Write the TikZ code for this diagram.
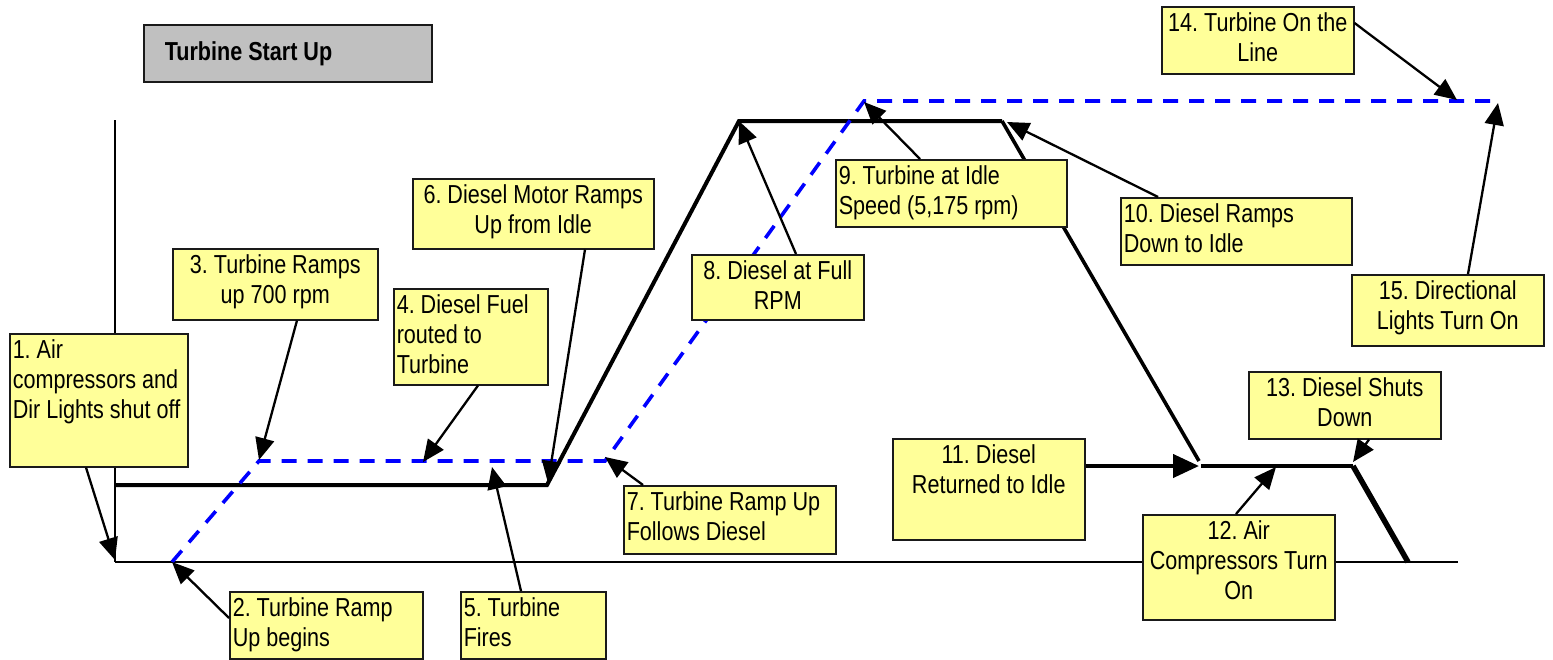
\documentclass[tikz,border=0pt]{standalone}
\usepackage{fontspec}
\setmainfont[FakeStretch=0.83]{Liberation Sans}
\usetikzlibrary{arrows.meta,calc}
\definecolor{boxyellow}{HTML}{FFFF99}
\definecolor{titlegray}{HTML}{C0C0C0}
\definecolor{turbblue}{HTML}{0000FF}
\definecolor{edgegray}{HTML}{1A1A1A}
\newcommand{\bxt}[4]{\parbox[c][#2][t]{#1}{#3\strut #4\par}}
\frenchspacing
\begin{document}
\begin{tikzpicture}[x=1pt,y=-1pt,
  every node/.style={font=\fontsize{26}{30}\selectfont},
  ybox/.style={draw=edgegray, line width=1.5pt, fill=boxyellow, inner xsep=3pt, inner ysep=4pt, anchor=north west},
  tbox/.style={draw=edgegray, line width=1.6pt, fill=titlegray, inner sep=0pt, anchor=north west},
  arr/.style={-{Triangle[length=22pt,width=19pt]}, line width=2.3pt},
  bigarr/.style={-{Triangle[length=26pt,width=23pt]}, line width=4.2pt},
  diesel/.style={line width=4pt, line join=miter},
  turbine/.style={line width=3.6pt, turbblue, dash pattern=on 15pt off 11pt},
  axis/.style={line width=2.5pt}
]
\useasboundingbox (0,0) rectangle (1553,659);

% title
\node[tbox] (title) at (143,24) {\parbox[c][57pt][c]{288pt}{\hspace*{21pt}\textbf{Turbine Start Up}}};

% axes
\draw[axis] (115,120) -- (115,562);
\draw[axis] (115,562) -- (1458,562);

% diesel curve
\draw[diesel] (115,485) -- (547,485) -- (739,121) -- (1002,121);
\draw[line width=3.6pt] (1002,121) -- (1199,461);
\draw[line width=4pt] (1201,466) -- (1353,466);
\draw[line width=5.5pt] (1353,466) -- (1408,562);

% turbine curve
\draw[turbine] (172,562) -- (259,461) -- (605,461) -- (864,101) -- (1497,101);

% boxes
\node[ybox] (b1) at (9,333) {\bxt{172pt}{125pt}{\raggedright}{1. Air\\compressors and\\Dir Lights shut off}};
\node[ybox] (b2) at (229,591) {\bxt{187pt}{59pt}{\raggedright}{2. Turbine Ramp\\Up begins}};
\node[ybox] (b3) at (172,248) {\bxt{199pt}{63pt}{\centering}{3. Turbine Ramps\\up 700 rpm}};
\node[ybox] (b4) at (393,288) {\bxt{148pt}{88pt}{\raggedright}{4. Diesel Fuel\\routed to\\Turbine}};
\node[ybox] (b5) at (460,591) {\bxt{139pt}{59pt}{\raggedright}{5. Turbine\\Fires}};
\node[ybox] (b6) at (412,178) {\bxt{235pt}{62pt}{\centering}{6. Diesel Motor Ramps\\Up from Idle}};
\node[ybox] (b7) at (623,485) {\bxt{206pt}{60pt}{\raggedright}{7. Turbine Ramp Up\\Follows Diesel}};
\node[ybox] (b8) at (691,254) {\bxt{166pt}{57pt}{\centering}{8. Diesel at Full\\RPM}};
\node[ybox] (b9) at (835,159) {\bxt{225pt}{59pt}{\raggedright}{9. Turbine at Idle\\Speed (5,175 rpm)}};
\node[ybox] (b10) at (1120,197) {\bxt{225pt}{59pt}{\raggedright}{10. Diesel Ramps\\Down to Idle}};
\node[ybox] (b11) at (892,438) {\bxt{186pt}{93pt}{\centering}{11. Diesel\\Returned to Idle}};
\node[ybox] (b12) at (1142,514) {\bxt{186pt}{97pt}{\centering}{12. Air\\Compressors Turn\\On}};
\node[ybox] (b13) at (1248,371) {\bxt{186pt}{59pt}{\centering}{13. Diesel Shuts\\Down}};
\node[ybox] (b14) at (1161,6) {\bxt{186pt}{59pt}{\centering}{14. Turbine On the\\Line}};
\node[ybox] (b15) at (1351,274) {\bxt{186pt}{63pt}{\centering}{15. Directional\\Lights Turn On}};

% arrow tips
\coordinate (t1) at (115,560);
\coordinate (t2) at (172,562);
\coordinate (t3) at (259,460);
\coordinate (t4) at (423,462);
\coordinate (t5) at (492,467);
\coordinate (t6) at (548,483);
\coordinate (t7) at (605,457);
\coordinate (t8) at (739,121);
\coordinate (t9) at (864,102);
\coordinate (t10) at (1007,122);
\coordinate (t11) at (1199,466);
\coordinate (t12) at (1276,467);
\coordinate (t13) at (1353,462);
\coordinate (t14) at (1457,100);
\coordinate (t15) at (1498,103);

% arrows
\draw[arr] ($(b1.south west)+(77,0)$) -- (t1);
\draw[arr] ($(b2.north west)+(0,27)$) -- (t2);
\draw[arr] ($(b3.south west)+(125,0)$) -- (t3);
\draw[arr] ($(b4.south west)+(85,0)$) -- (t4);
\draw[arr] ($(b5.north west)+(61,0)$) -- (t5);
\draw[arr] ($(b6.south west)+(173,0)$) -- (t6);
\draw[arr] ($(b7.north west)+(20,0)$) -- (t7);
\draw[arr] ($(b8.north west)+(105,0)$) -- (t8);
\draw[arr] ($(b9.north west)+(85,0)$) -- (t9);
\draw[arr] ($(b10.north west)+(38,0)$) -- (t10);
\draw[bigarr] ($(b11.north east)+(0,28)$) -- (t11);
\draw[arr] ($(b12.north west)+(94,0)$) -- (t12);
\draw[arr] ($(b13.south west)+(121,0)$) -- (t13);
\draw[arr] ($(b14.north east)+(0,17)$) -- (t14);
\draw[arr] ($(b15.north west)+(117,0)$) -- (t15);
\end{tikzpicture}
\end{document}
